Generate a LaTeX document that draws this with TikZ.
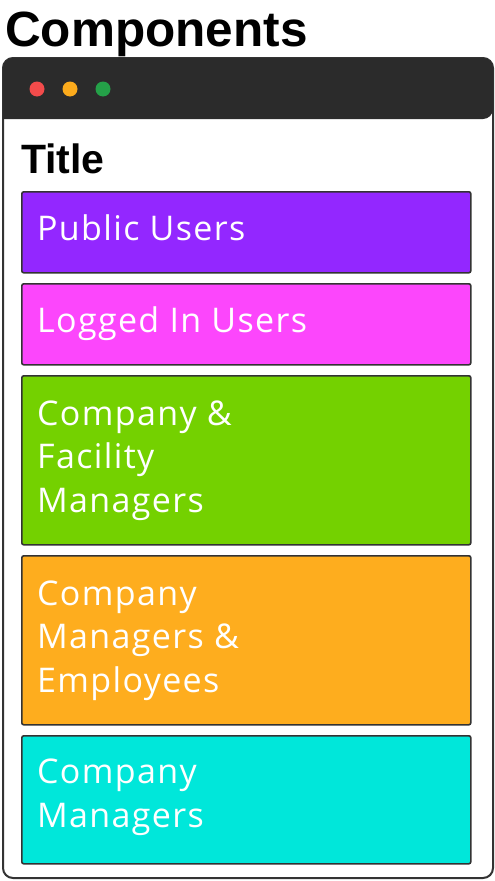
\documentclass[tikz,border=0pt]{standalone}
\usepackage{fontspec}
\setmainfont{Liberation Sans}
\newfontfamily\boxfont[LetterSpace=4]{Open Sans}
\usetikzlibrary{positioning}

\definecolor{barcol}{HTML}{2B2B2B}
\definecolor{edgecol}{HTML}{333333}
\definecolor{dotred}{HTML}{F24B4B}
\definecolor{dotorange}{HTML}{FCAB1C}
\definecolor{dotgreen}{HTML}{24A148}
\definecolor{pubcol}{HTML}{9327FF}
\definecolor{logcol}{HTML}{FC46FC}
\definecolor{facilcol}{HTML}{74D100}
\definecolor{emplcol}{HTML}{FEAD1E}
\definecolor{mgrcol}{HTML}{00E7DA}

\begin{document}
\begin{tikzpicture}[x=1pt,y=-1pt,
   group/.style={draw=edgecol,line width=1.6pt,rounded corners=2pt,anchor=north west,
                 minimum width=449pt,inner sep=0pt},
   lbl/.style={anchor=base west,text=white,align=left,inner sep=0pt,
               font=\boxfont\fontsize{34}{43.5}\selectfont},
   dot/.style={circle,inner sep=0pt,minimum size=15pt}]

   \useasboundingbox (0,0) rectangle (495,881);

   % Window
      \node[anchor=base west,inner sep=0pt,font=\bfseries\fontsize{49.5}{55}\selectfont] (head) at (5,46) {Components};
      \draw[edgecol,line width=2pt,fill=white,rounded corners=10pt] (3,58) rectangle (493,878);
      \fill[barcol,rounded corners=10pt] (3,119) -- (3,58) -- (493,58) -- (493,119) [sharp corners] -- cycle;
      \node[dot,fill=dotred]    (d1) at (37,89)  {};
      \node[dot,fill=dotorange] (d2) at (70,89)  {};
      \node[dot,fill=dotgreen]  (d3) at (103,89) {};
      \node[anchor=base west,inner sep=0pt,font=\bfseries\fontsize{41}{48}\selectfont] (title) at (21,173) {Title};

   % Groups
      \node[group,fill=pubcol,minimum height=81pt]    (pub)    at (21,191) {};
      \node[group,fill=logcol,minimum height=81pt]    (logged) at (21,283) {};
      \node[group,fill=facilcol,minimum height=169pt] (facil)  at (21,375) {};
      \node[group,fill=emplcol,minimum height=169pt]  (empl)   at (21,555) {};
      \node[group,fill=mgrcol,minimum height=128pt]   (mgr)    at (21,735) {};

   % Labels (anchored at the last line)
      \node[lbl] (pubtxt)    at (37,240) {Public Users};
      \node[lbl] (loggedtxt) at (37,332) {Logged In Users};
      \node[lbl] (faciltxt)  at (37,512) {Company \&\\Facility\\Managers};
      \node[lbl] (empltxt)   at (37,692) {Company\\Managers \&\\Employees};
      \node[lbl] (mgrtxt)    at (37,827) {Company\\Managers};
\end{tikzpicture}
\end{document}
